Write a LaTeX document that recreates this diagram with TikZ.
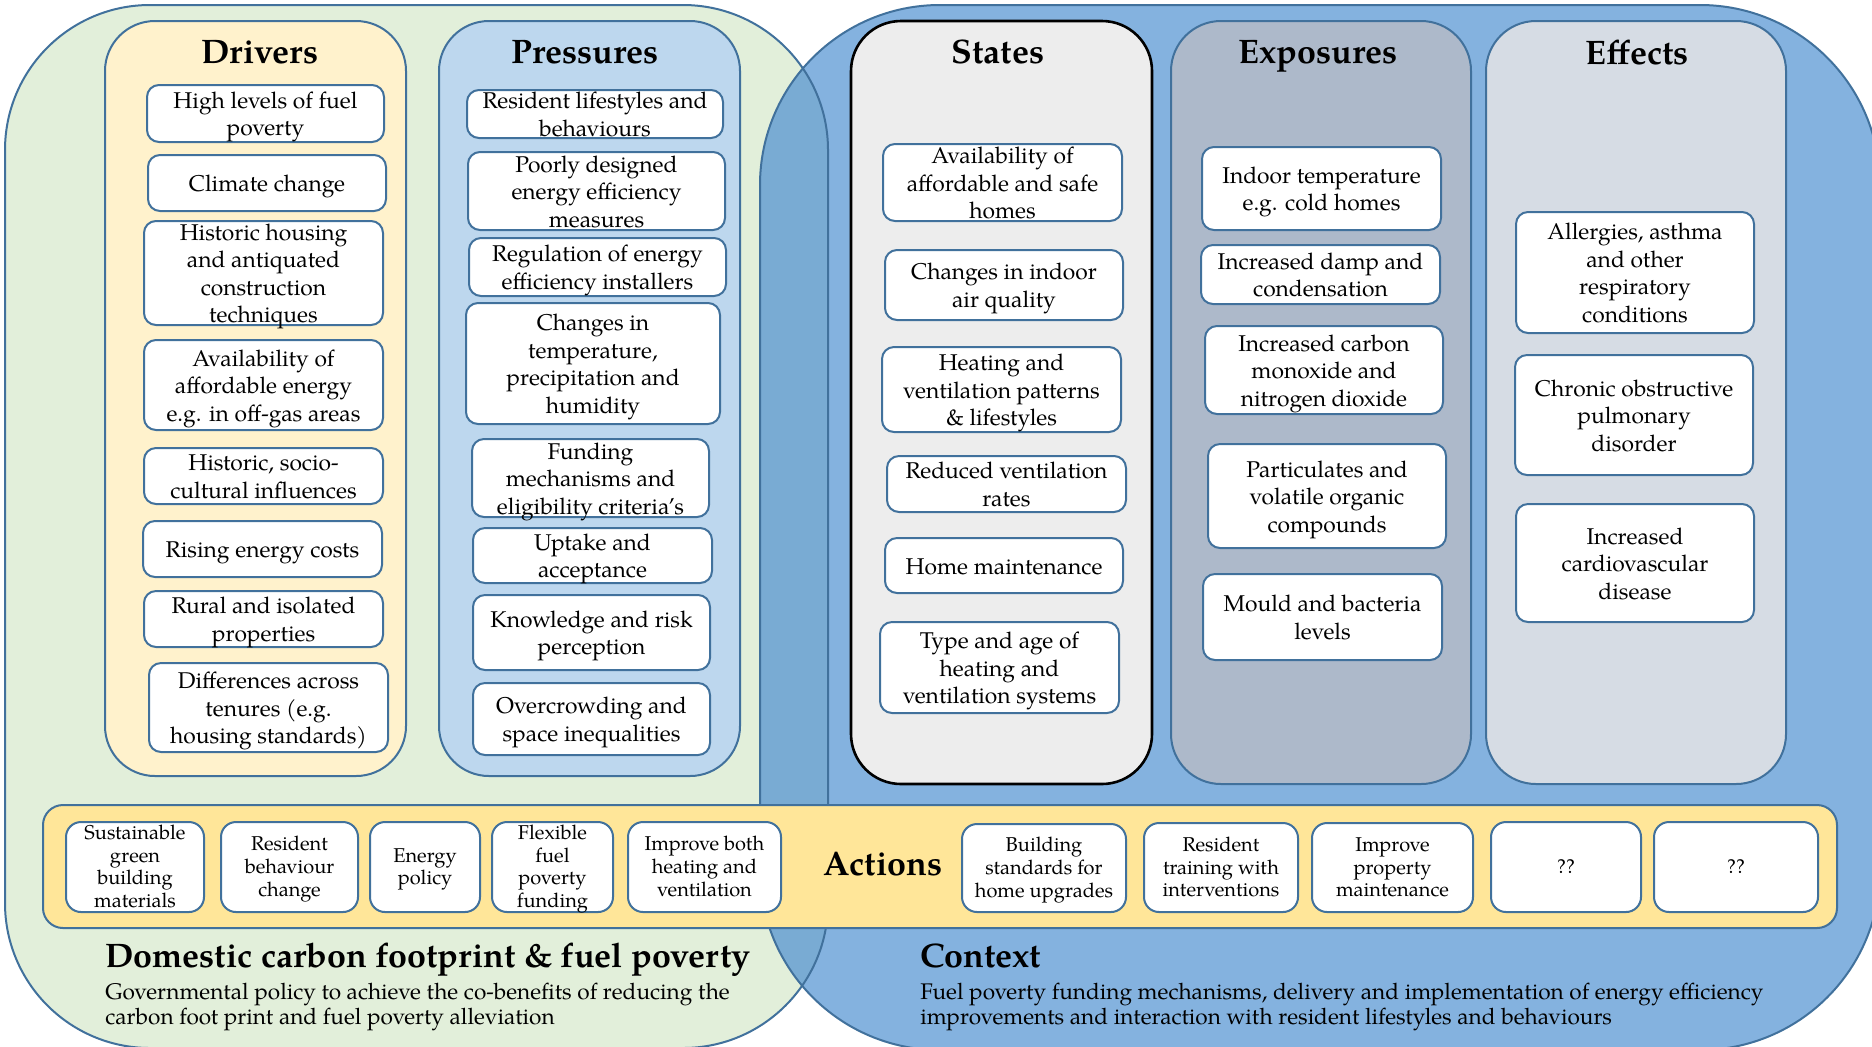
\documentclass[tikz,border=0pt]{standalone}
\usepackage{fontspec}
\setmainfont{TeX Gyre Pagella}
\definecolor{fpgreen}{HTML}{E2EFDA}
\definecolor{ctxblue}{HTML}{84B2DF}
\definecolor{overlapblue}{HTML}{79ABD3}
\definecolor{edgeblue}{HTML}{41719C}
\definecolor{drvfill}{HTML}{FFF2CC}
\definecolor{prsfill}{HTML}{BDD7EE}
\definecolor{stafill}{HTML}{EDEDED}
\definecolor{expfill}{HTML}{ADB9CA}
\definecolor{efffill}{HTML}{D6DCE4}
\definecolor{actfill}{HTML}{FFE699}
% place a rectangular node from its corner coordinates (x1,y1)-(x2,y2);
% the text is smashed so that it never enlarges the box, and the optional
% argument sets how far its centre sits below the math axis of the line
\newcommand\mkbox[8][4.35pt]{\node[#2, minimum width={(#6-#4)*0.5pt}, minimum height={(#7-#5)*0.5pt}] (#3) at ({(#4+#6)/2},{(#5+#7)/2})
  {\raisebox{-#1}[0pt][0pt]{\begin{tabular}{@{}c@{}}#8\end{tabular}}};}
\begin{document}
\begin{tikzpicture}[x=0.5pt,y=-0.5pt,
  edge/.style={draw=edgeblue, line width=1pt},
  column/.style={edge, rounded corners=25pt, inner sep=0pt},
  box/.style={edge, fill=white, rounded corners=6pt, inner sep=0pt, align=center,
    font=\fontsize{11.4}{13.75}\selectfont},
  actbox/.style={edge, fill=white, rounded corners=7.5pt, inner sep=0pt, align=center,
    font=\fontsize{10}{11.3}\selectfont},
  head/.style={anchor=base, inner sep=0pt, font=\fontsize{17}{20}\selectfont\bfseries},
  body/.style={anchor=base west, inner sep=0pt, font=\fontsize{11.3}{13}\selectfont}]
\useasboundingbox (0,0) rectangle (1872,1046);

% two overlapping context areas
\fill[fpgreen, rounded corners=72.5pt] (5,5) rectangle (828,1048);
\fill[ctxblue, rounded corners=90pt] (760,5) rectangle (1880,1050);
\begin{scope}
  \clip[rounded corners=72.5pt] (5,5) rectangle (828,1048);
  \fill[overlapblue, rounded corners=90pt] (760,5) rectangle (1880,1050);
\end{scope}
\draw[edge, rounded corners=72.5pt] (5,5) rectangle (828,1048);
\draw[edge, rounded corners=90pt] (760,5) rectangle (1880,1050);

% columns
\mkbox{column, fill=drvfill}{drivers}{105}{21}{406}{776}{}
\mkbox{column, fill=prsfill}{pressures}{439}{21}{740}{776}{}
\mkbox{column, fill=stafill, draw=black, line width=1.3pt}{states}{851}{21}{1152}{784}{}
\mkbox{column, fill=expfill}{exposures}{1171}{21}{1471}{784}{}
\mkbox{column, fill=efffill}{effects}{1486}{21}{1786}{784}{}

\node[head] (hdrv) at (260,63) {Drivers};
\node[head] (hprs) at (585,63) {Pressures};
\node[head] (hsta) at (998,63) {States};
\node[head] (hexp) at (1318,63) {Exposures};
\node[head] (heff) at (1637,64) {Effects};

% drivers
\mkbox{box}{d1}{147}{85}{384}{142}{High levels of fuel\\poverty}
\mkbox{box}{d2}{148}{155}{386}{211}{Climate change}
\mkbox{box}{d3}{144}{221}{383}{325}{Historic housing\\and antiquated\\construction\\techniques}
\mkbox{box}{d4}{144}{340}{383}{430}{Availability of\\affordable energy\\e.g. in off-gas areas}
\mkbox{box}{d5}{144}{448}{383}{504}{Historic, socio-\\cultural influences}
\mkbox{box}{d6}{143}{521}{382}{577}{Rising energy costs}
\mkbox{box}{d7}{144}{591}{383}{647}{Rural and isolated\\properties}
\mkbox{box}{d8}{149}{663}{388}{752}{Differences across\\tenures (e.g.\\housing standards)}

% pressures
\mkbox{box}{p1}{467}{90}{723}{138}{Resident lifestyles and\\behaviours}
\mkbox{box}{p2}{468}{152}{725}{230}{Poorly designed\\energy efficiency\\measures}
\mkbox{box}{p3}{469}{238}{726}{296}{Regulation of energy\\efficiency installers}
\mkbox{box}{p4}{466}{303}{720}{424}{Changes in\\temperature,\\precipitation and\\humidity}
\mkbox{box}{p5}{472}{439}{709}{517}{Funding\\mechanisms and\\eligibility criteria's}
\mkbox{box}{p6}{473}{528}{712}{583}{Uptake and\\acceptance}
\mkbox{box}{p7}{473}{595}{710}{670}{Knowledge and risk\\perception}
\mkbox{box}{p8}{473}{683}{710}{755}{Overcrowding and\\space inequalities}

% states
\mkbox{box}{s1}{883}{144}{1122}{221}{Availability of\\affordable and safe\\homes}
\mkbox{box}{s2}{885}{250}{1123}{320}{Changes in indoor\\air quality}
\mkbox{box}{s3}{882}{347}{1121}{432}{Heating and\\ventilation patterns\\\& lifestyles}
\mkbox{box}{s4}{887}{456}{1126}{512}{Reduced ventilation\\rates}
\mkbox{box}{s5}{885}{538}{1123}{593}{Home maintenance}
\mkbox{box}{s6}{880}{622}{1119}{713}{Type and age of\\heating and\\ventilation systems}

% exposures
\mkbox{box}{e1}{1202}{147}{1441}{230}{Indoor temperature\\e.g. cold homes}
\mkbox{box}{e2}{1201}{245}{1440}{304}{Increased damp and\\condensation}
\mkbox{box}{e3}{1205}{326}{1443}{414}{Increased carbon\\monoxide and\\nitrogen dioxide}
\mkbox{box}{e4}{1208}{444}{1446}{548}{Particulates and\\volatile organic\\compounds}
\mkbox{box}{e5}{1203}{574}{1442}{660}{Mould and bacteria\\levels}

% effects
\mkbox{box}{f1}{1516}{212}{1754}{333}{Allergies, asthma\\and other\\respiratory\\conditions}
\mkbox{box}{f2}{1515}{355}{1753}{475}{Chronic obstructive\\pulmonary\\disorder}
\mkbox{box}{f3}{1516}{504}{1754}{622}{Increased\\cardiovascular\\disease}

% actions band
\mkbox{edge, rounded corners=10pt, fill=actfill, inner sep=0pt}{actions}{43}{805}{1837}{928}{}
\node[head] (hact) at (883,875) {Actions};
\mkbox[3.5pt]{actbox}{a1}{66}{822}{204}{912}{Sustainable\\green\\building\\materials}
\mkbox[3.5pt]{actbox}{a2}{221}{822}{358}{912}{Resident\\behaviour\\change}
\mkbox[3.5pt]{actbox}{a3}{370}{822}{480}{912}{Energy\\policy}
\mkbox[3.5pt]{actbox}{a4}{492}{822}{613}{912}{Flexible\\fuel\\poverty\\funding}
\mkbox[3.5pt]{actbox}{a5}{628}{822}{781}{912}{Improve both\\heating and\\ventilation}
\mkbox[3.5pt]{actbox}{a6}{962}{824}{1126}{912}{Building\\standards for\\home upgrades}
\mkbox[3.5pt]{actbox}{a7}{1144}{823}{1298}{912}{Resident\\training with\\interventions}
\mkbox[3.5pt]{actbox}{a8}{1312}{823}{1473}{912}{Improve\\property\\maintenance}
\mkbox[3.5pt]{actbox}{a9}{1491}{822}{1641}{912}{??}
\mkbox[3.5pt]{actbox}{a10}{1654}{822}{1818}{912}{??}

% captions of the two areas
\node[head, anchor=base west] (dtitle) at (105,967) {Domestic carbon footprint \& fuel poverty};
\node[body] (dtext1) at (105,999) {Governmental policy to achieve the co-benefits of reducing the};
\node[body] (dtext2) at (105,1024) {carbon foot print and fuel poverty alleviation};
\node[head, anchor=base west] (ctitle) at (920,967) {Context};
\node[body] (ctext1) at (920,999) {Fuel poverty funding mechanisms, delivery and implementation of energy efficiency};
\node[body] (ctext2) at (920,1024) {improvements and interaction with resident lifestyles and behaviours};
\end{tikzpicture}
\end{document}
